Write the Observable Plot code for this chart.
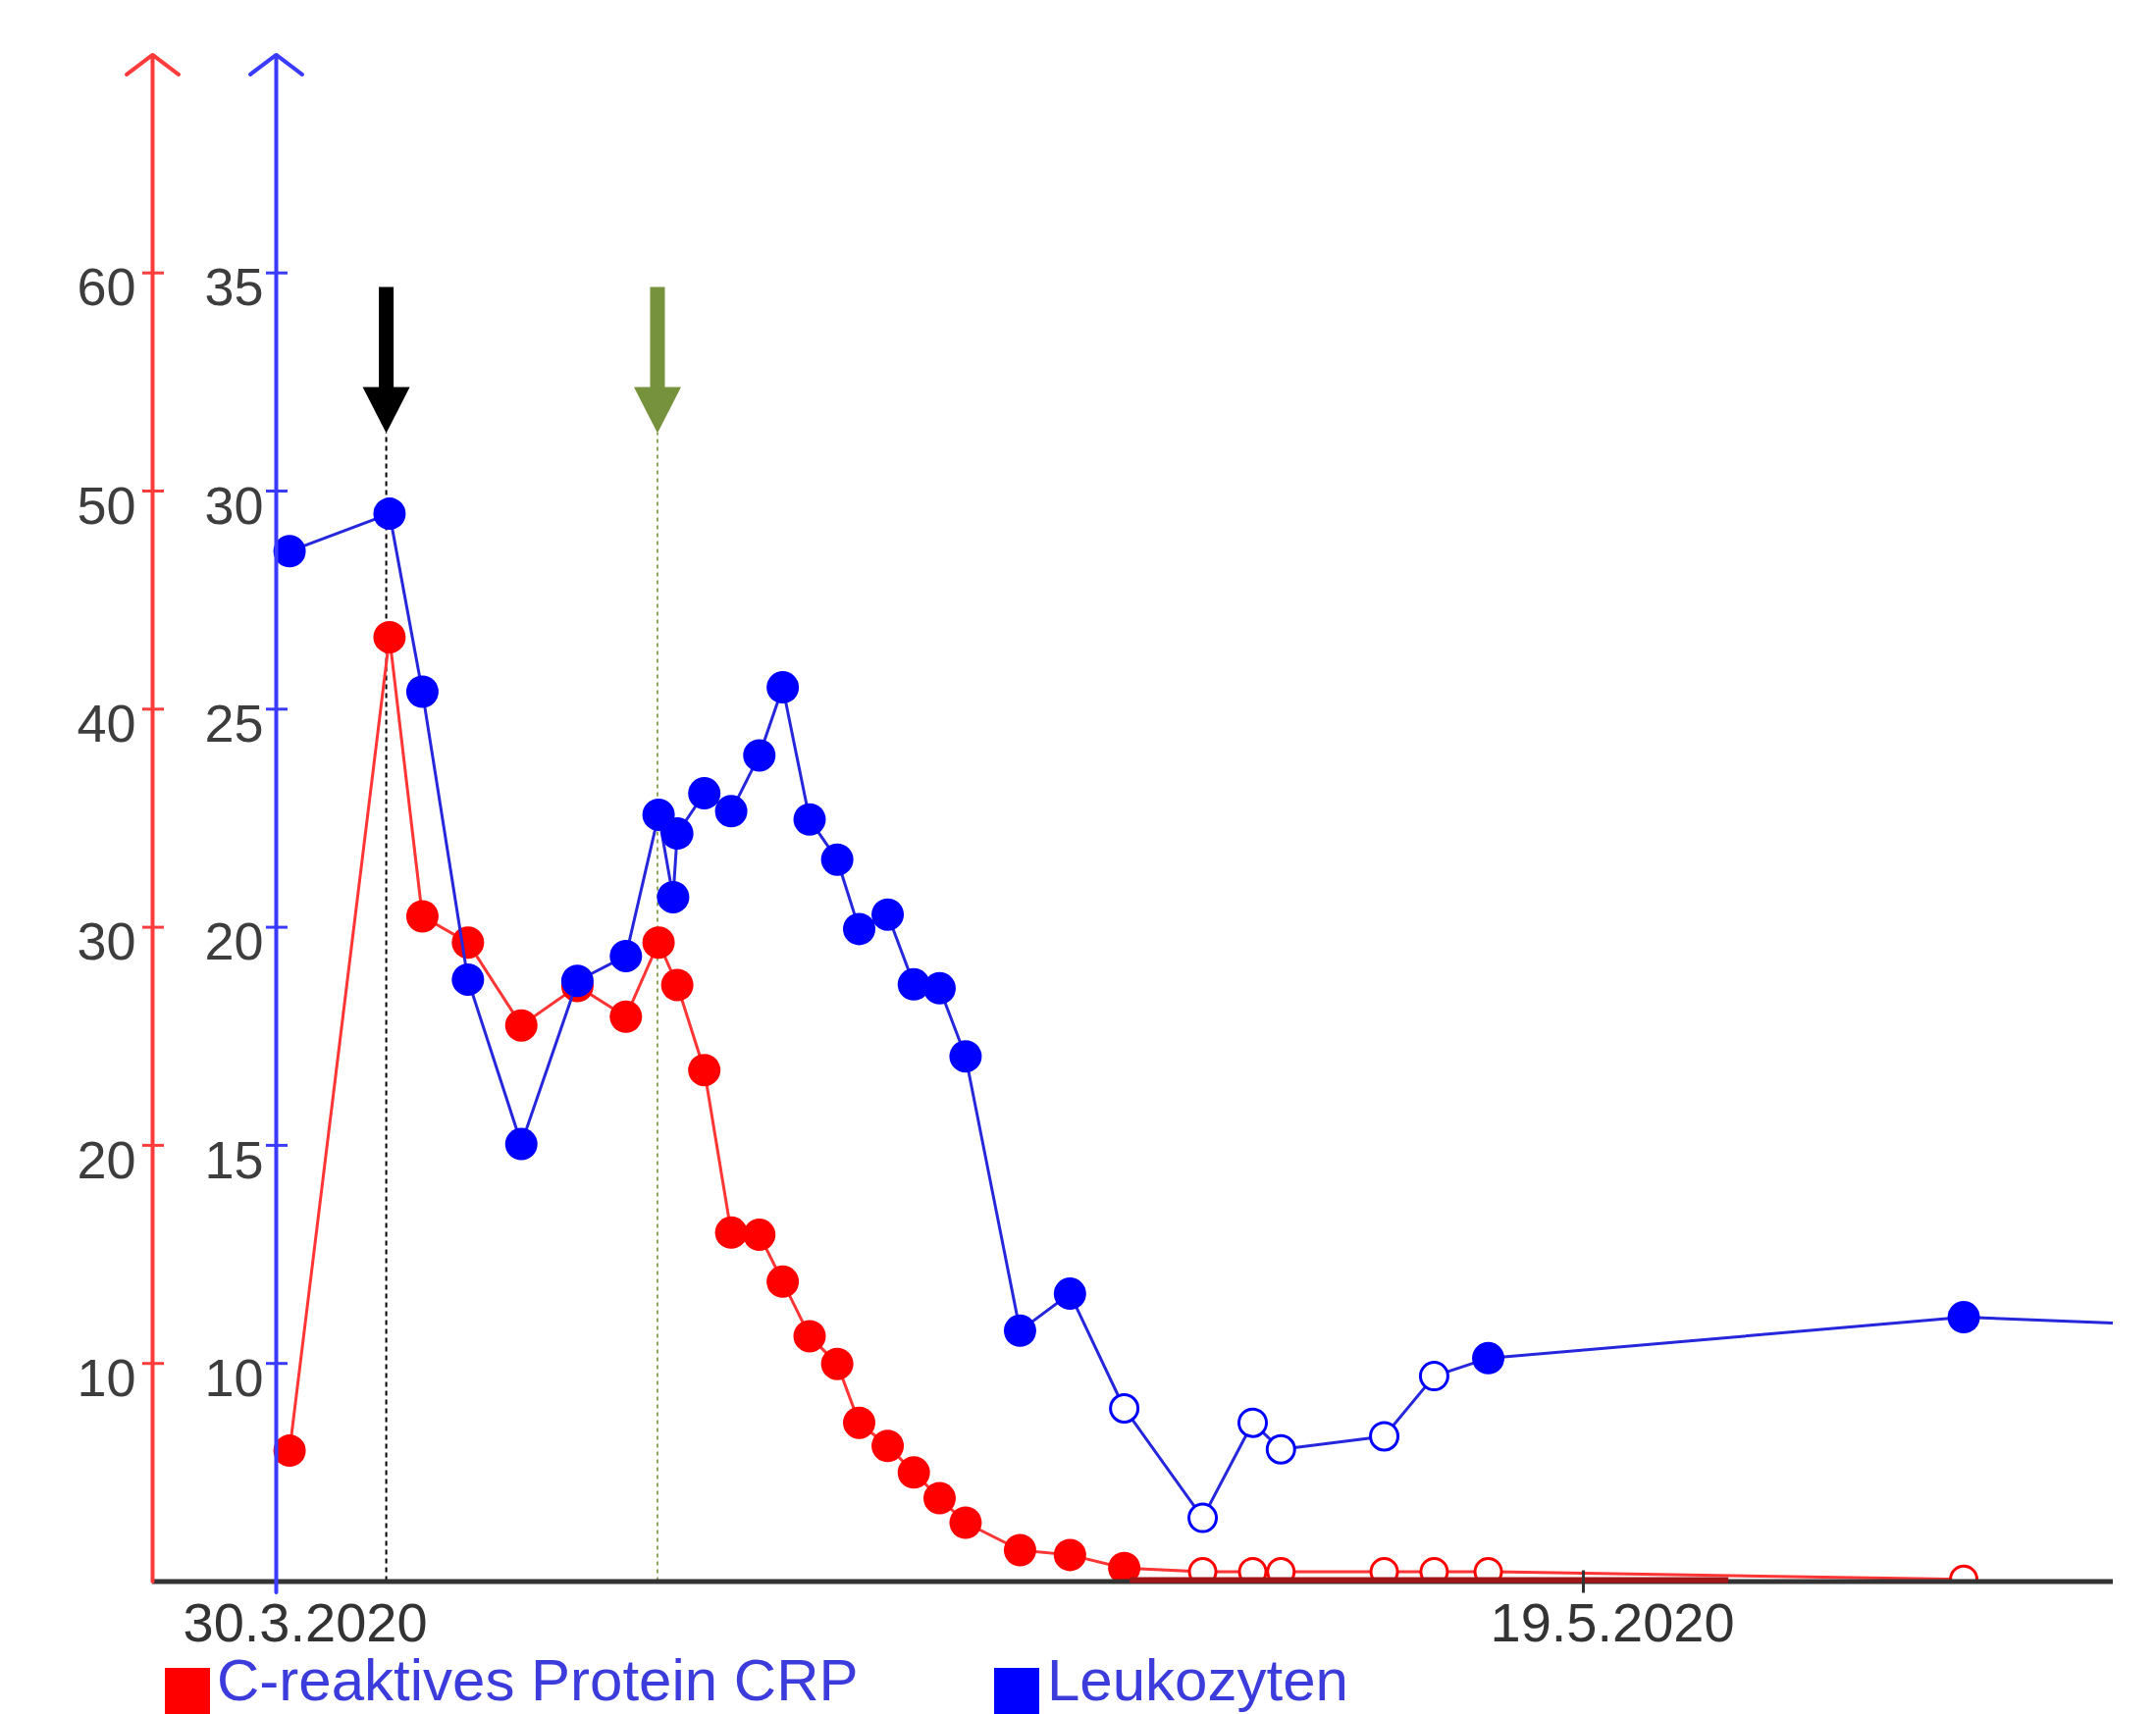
<!DOCTYPE html>
<html>
<head>
<meta charset="utf-8">
<script src="https://cdn.jsdelivr.net/npm/d3@7"></script>
<script src="https://cdn.jsdelivr.net/npm/@observablehq/plot@0.6"></script>
<style>
html, body { margin: 0; padding: 0; background: #fff; overflow: hidden; }
#chart svg { display: block; }
#legend { position: relative; width: 2197px; height: 57px;
  font-family: "Liberation Sans", Arial, sans-serif; font-size: 60px; line-height: 60px; }
#legend .sw { position: absolute; top: 10px; width: 46px; height: 47px; }
#legend .lb { position: absolute; top: -7px; white-space: nowrap; color: #3c3cdc; }
</style>
</head>
<body>
<div id="chart"></div>
<div id="legend"></div>
<script>
// ---- data ----
const times = [
  "2020-03-30T12:15Z", "2020-04-03T08:00Z", "2020-04-04T14:10Z", "2020-04-06T08:00Z",
  "2020-04-08T09:00Z", "2020-04-10T12:30Z", "2020-04-12T09:00Z", "2020-04-13T15:00Z",
  "2020-04-14T04:20Z", "2020-04-14T08:10Z", "2020-04-15T09:00Z", "2020-04-16T09:40Z",
  "2020-04-17T11:30Z", "2020-04-18T09:00Z", "2020-04-19T09:40Z", "2020-04-20T11:00Z",
  "2020-04-21T07:10Z", "2020-04-22T09:20Z", "2020-04-23T09:20Z", "2020-04-24T09:00Z",
  "2020-04-25T08:50Z", "2020-04-27T10:50Z", "2020-04-29T08:40Z", "2020-05-01T10:30Z",
  "2020-05-04T10:30Z", "2020-05-06T08:25Z", "2020-05-07T10:20Z", "2020-05-11T09:10Z",
  "2020-05-13T07:00Z", "2020-05-15T08:40Z", "2020-06-02T13:10Z", "2020-06-12T00:00Z"
];
const crp = [6.0, 43.3, 30.5, 29.3, 25.5, 27.3, 25.9, 29.3, null, 27.35, 23.45, 16.0,
  15.9, 13.75, 11.25, 9.98, 7.28, 6.22, 5.0, 3.82, 2.7, 1.44, 1.22, 0.62,
  0.45, 0.45, 0.45, 0.45, 0.45, 0.45, 0.1, null];
const crpOpen = [0,0,0,0,0,0,0,0,0,0,0,0,0,0,0,0,0,0,0,0,0,0,0,0,1,1,1,1,1,1,1,0];
const leu = [28.62, 29.48, 25.4, 18.8, 15.03, 18.77, 19.34, 22.58, 20.69, 22.15, 23.07, 22.66,
  23.94, 25.5, 22.47, 21.55, 19.96, 20.29, 18.69, 18.6, 17.04, 10.75, 11.6, 8.97,
  6.46, 8.64, 8.03, 8.33, 9.71, 10.12, 11.06, 10.84];
const leuOpen = [0,0,0,0,0,0,0,0,0,0,0,0,0,0,0,0,0,0,0,0,0,0,0,1,1,1,1,1,1,0,0,0];

const seriesNames = ["C-reaktives Protein CRP", "Leukozyten"];
const crpTicks = [10, 20, 30, 40, 50, 60];
const leuTicks = [10, 15, 20, 25, 30, 35];
const xTicks = ["2020-03-30T00:00Z", "2020-05-19T00:00Z"];
const xTickLabels = ["30.3.2020", "19.5.2020"];
const xDomain = ["2020-03-25T06:30Z", "2020-06-08T06:30Z"];
const crpDomain = [0, 70];
const leuDomain = [5, 40];
const markers = [
  {date: "2020-04-03T05:00Z", name: "black"},
  {date: "2020-04-13T14:00Z", name: "green"}
];
const markerTip = 52.65;            // CRP units
const crpBand = [{start: "2020-05-01T16:00Z", end: "2020-05-24T13:30Z", value: 0.07}];

// ---- derived tables ----
const toY = v => (v - leuDomain[0]) * (crpDomain[1] - crpDomain[0]) / (leuDomain[1] - leuDomain[0]) + crpDomain[0];
const rows = times.map((t, i) => ({
  date: new Date(t), crp: crp[i], leu: leu[i], crpOpen: !!crpOpen[i], leuOpen: !!leuOpen[i]
}));
const crpRows = rows.filter(d => d.crp != null);
const xTickDates = xTicks.map(d => new Date(d));
const xLabelMap = new Map(xTickDates.map((d, i) => [+d, xTickLabels[i]]));
const leuTickPos = leuTicks.map(toY);
const leuLabelMap = new Map(leuTicks.map(v => [toY(v), String(v)]));
const markerRows = markers.map(m => ({...m, date: new Date(m.date)}));
const bandRows = crpBand.map(b => ({start: new Date(b.start), end: new Date(b.end), value: b.value}));
const xStart = new Date(xDomain[0]);
const blueAxisDate = xTickDates[0];

const RED = "#ff0000", BLUE = "#0000ff";
const RED_AX = "#ff3b3b", BLUE_AX = "#3b3bff";
const markerColor = {black: "#000000", green: "#76923c"};

const arrowShape = {
  draw(ctx, l) {
    const sw = 7.5, hw = 24, hl = 47;
    ctx.moveTo(-sw, 0);
    ctx.lineTo(-sw, -(l - hl));
    ctx.lineTo(-hw, -(l - hl));
    ctx.lineTo(0, -l);
    ctx.lineTo(hw, -(l - hl));
    ctx.lineTo(sw, -(l - hl));
    ctx.lineTo(sw, 0);
    ctx.closePath();
  }
};

const tickFont = 54;

const chart = Plot.plot({
  width: 2197,
  height: 1690,
  marginLeft: 155,
  marginRight: 44,
  marginTop: 55.4,
  marginBottom: 78.5,
  x: {type: "utc", domain: xDomain.map(d => new Date(d))},
  y: {domain: crpDomain},
  style: {fontFamily: "'Liberation Sans', Arial, sans-serif", background: "white", overflow: "visible"},
  marks: [
    // dashed marker lines
    ...markerRows.map(m => Plot.ruleX([m], {
      x: "date", y1: crpDomain[0], y2: markerTip,
      stroke: markerColor[m.name],
      strokeWidth: m.name === "black" ? 2 : 1.6,
      strokeDasharray: m.name === "black" ? "5,4" : "4,4"
    })),
    // CRP
    Plot.line(crpRows, {x: "date", y: "crp", stroke: "#ff3434", strokeWidth: 3, clip: true}),
    Plot.dot(crpRows.filter(d => !d.crpOpen), {x: "date", y: "crp", r: 16.5, fill: RED, stroke: "none", clip: true}),
    Plot.dot(crpRows.filter(d => d.crpOpen), {x: "date", y: "crp", r: 13.5, fill: "white", stroke: RED, strokeWidth: 3, clip: true}),
    // Leukozyten
    Plot.line(rows, {x: "date", y: d => toY(d.leu), stroke: "#2626dc", strokeWidth: 3, clip: true}),
    Plot.dot(rows.filter(d => !d.leuOpen), {x: "date", y: d => toY(d.leu), r: 16.5, fill: BLUE, stroke: "none", clip: true}),
    Plot.dot(rows.filter(d => d.leuOpen), {x: "date", y: d => toY(d.leu), r: 14, fill: "white", stroke: BLUE, strokeWidth: 3, clip: true}),
    // baseline
    Plot.ruleY([crpDomain[0]], {stroke: "#333333", strokeWidth: 5}),
    Plot.ruleY(bandRows, {x1: "start", x2: "end", y: "value", stroke: "#a01616", strokeWidth: 6}),
    // x ticks + labels
    Plot.axisX({ticks: xTickDates, tickSize: 23, dy: -11, stroke: "#333333", strokeWidth: 3, fill: "none", label: null}),
    Plot.axisX({ticks: xTickDates, tickSize: 0, tickPadding: 21, tickFormat: d => xLabelMap.get(+d),
      fontSize: 56, fill: "#333333", textAnchor: "start", dx: -95, label: null}),
    // vertical axes with arrow heads
    Plot.arrow([{x: xStart, y1: crpDomain[0], y2: crpDomain[1]}], {
      x1: "x", x2: "x", y1: "y1", y2: "y2", stroke: RED_AX, strokeWidth: 4, headLength: 12.4, headAngle: 106
    }),
    Plot.arrow([{x: blueAxisDate, y1: -0.5, y2: crpDomain[1]}], {
      x1: "x", x2: "x", y1: "y1", y2: "y2", stroke: BLUE_AX, strokeWidth: 4, headLength: 12.4, headAngle: 106
    }),
    // y ticks
    Plot.axisY({ticks: crpTicks, tickSize: 22, dx: 12, stroke: RED_AX, strokeWidth: 3, fill: "none", label: null}),
    Plot.axisY({ticks: crpTicks, tickSize: 0, tickPadding: 17, dy: 16, fontSize: tickFont, fill: "#3d3d3d", label: null}),
    Plot.axisY({ticks: leuTickPos, tickSize: 22, dx: 138, stroke: BLUE_AX, strokeWidth: 3, fill: "none", label: null}),
    Plot.axisY({ticks: leuTickPos, tickSize: 0, tickPadding: 13, dx: 126, dy: 16, fontSize: tickFont,
      tickFormat: d => leuLabelMap.get(d), fill: "#3d3d3d", label: null}),
    // marker arrows
    ...markerRows.map(m => Plot.vector([m], {
      x: "date", y: () => markerTip, length: 149, rotate: 180, anchor: "end",
      shape: arrowShape, fill: markerColor[m.name], stroke: "none"
    }))
  ]
});
document.getElementById("chart").appendChild(chart);

// legend
const legendLayout = [{left: 168, textLeft: 221, color: RED}, {left: 1013, textLeft: 1067, color: BLUE}];
const legend = document.getElementById("legend");
seriesNames.forEach((name, i) => {
  const sw = document.createElement("span");
  sw.className = "sw";
  sw.style.left = legendLayout[i].left + "px";
  sw.style.background = legendLayout[i].color;
  legend.appendChild(sw);
  const lb = document.createElement("span");
  lb.className = "lb";
  lb.style.left = legendLayout[i].textLeft + "px";
  lb.textContent = name;
  legend.appendChild(lb);
});
</script>
</body>
</html>
